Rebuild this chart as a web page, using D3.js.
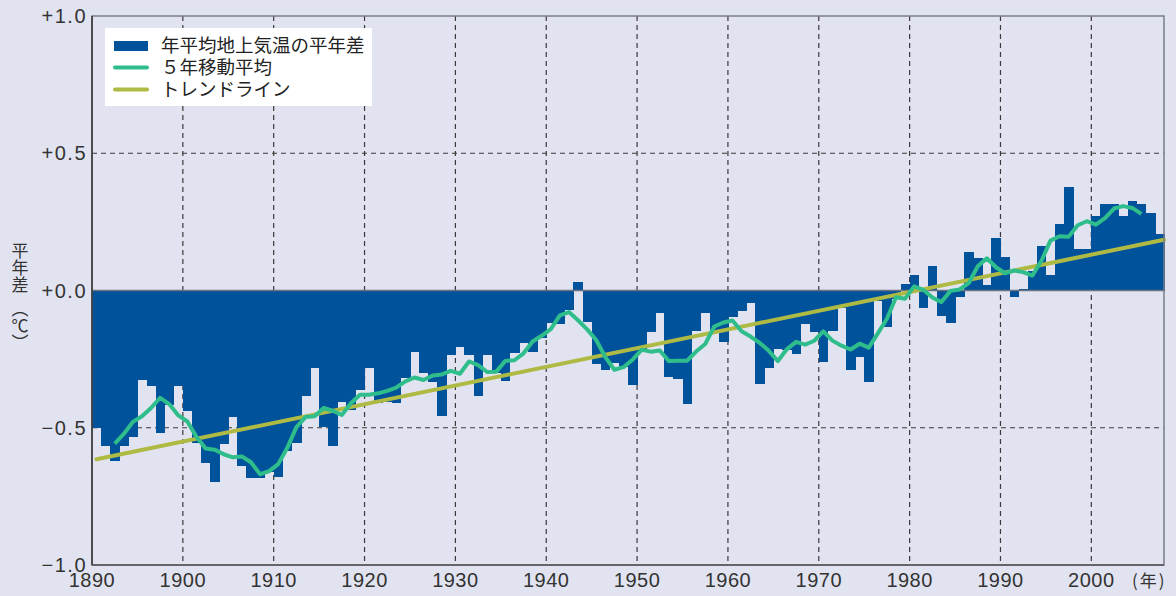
<!DOCTYPE html>
<html>
<head>
<meta charset="utf-8">
<script src="https://cdn.jsdelivr.net/npm/d3@7"></script>
<style>
  html, body { margin: 0; padding: 0; background: #e1e4f0; }
  svg { display: block; }
</style>
</head>
<body>
<svg id="chart"></svg>
<script>
// annual anomaly, first bar = 1891
const firstYear = 1891;
const anomalies = [
  -0.50, -0.567, -0.62, -0.567, -0.534, -0.325, -0.347, -0.518, -0.417, -0.347,
  -0.439, -0.555, -0.628, -0.697, -0.558, -0.461, -0.639, -0.683, -0.683, -0.662,
  -0.68, -0.583, -0.555, -0.386, -0.284, -0.497, -0.567, -0.406, -0.436, -0.362,
  -0.284, -0.411, -0.405, -0.411, -0.317, -0.223, -0.30, -0.333, -0.457, -0.234,
  -0.205, -0.234, -0.386, -0.234, -0.299, -0.331, -0.228, -0.19, -0.223, -0.172,
  -0.117, -0.123, -0.07, 0.03, -0.113, -0.266, -0.289, -0.263, -0.28, -0.345,
  -0.22, -0.152, -0.083, -0.314, -0.323, -0.414, -0.146, -0.083, -0.146, -0.186,
  -0.095, -0.073, -0.046, -0.341, -0.284, -0.212, -0.216, -0.232, -0.123, -0.152,
  -0.262, -0.146, -0.063, -0.29, -0.244, -0.332, -0.04, -0.134, -0.03, 0.022,
  0.058, -0.065, 0.091, -0.094, -0.119, -0.024, 0.139, 0.117, 0.02, 0.19,
  0.121, -0.024, 0.007, 0.07, 0.161, 0.058, 0.241, 0.378, 0.15, 0.15,
  0.27, 0.314, 0.314, 0.27, 0.325, 0.314, 0.281, 0.205
];

const trendYears = [1890.5, 2008];
const trendValues = [-0.615, 0.185];

const xTicks = [1890, 1900, 1910, 1920, 1930, 1940, 1950, 1960, 1970, 1980, 1990, 2000];
const yTicks = [-1.0, -0.5, 0.0, 0.5, 1.0];
const yTickLabels = ["−1.0", "−0.5", "+0.0", "+0.5", "+1.0"];
const legendLabels = ["年平均地上気温の平年差", "５年移動平均", "トレンドライン"];

const width = 1176;
const height = 596;
const margin = {top: 16, right: 12, bottom: 31, left: 92};

const barColor = "#00529b";
const maColor = "#2fbd8b";
const trendColor = "#afba45";
const jpFont = "'Noto Sans CJK JP', sans-serif";
const numFont = "'Liberation Sans', Arial, sans-serif";

const data = anomalies.map((v, i) => ({year: firstYear + i, value: v}));

// 5-year centred running mean of the annual values
const movingAvg = [];
for (let i = 2; i < data.length - 2; i++) {
    movingAvg.push({year: data[i].year, value: d3.mean(data.slice(i - 2, i + 3), d => d.value)});
}

const x = d3.scaleLinear()
    .domain([1890, 2008])
    .range([margin.left, width - margin.right]);

const y = d3.scaleLinear()
    .domain([-1, 1])
    .range([height - margin.bottom, margin.top]);

const svg = d3.select("#chart")
    .attr("width", width)
    .attr("height", height);

// dashed grid
svg.append("g")
    .selectAll("line")
    .data(xTicks.slice(1))
    .join("line")
        .attr("x1", d => x(d))
        .attr("x2", d => x(d))
        .attr("y1", y(1))
        .attr("y2", y(-1))
        .attr("stroke", "#3a3a3a")
        .attr("stroke-width", 1.2)
        .attr("stroke-dasharray", "5,4");

svg.append("g")
    .selectAll("line")
    .data([-0.5, 0.5])
    .join("line")
        .attr("x1", x(1890))
        .attr("x2", x(2008))
        .attr("y1", d => y(d))
        .attr("y2", d => y(d))
        .attr("stroke", "#3a3a3a")
        .attr("stroke-width", 1.2)
        .attr("stroke-dasharray", "5,4");

// bars: year Y spans [Y-1, Y]
svg.append("g")
    .attr("shape-rendering", "crispEdges")
    .selectAll("rect")
    .data(data)
    .join("rect")
        .attr("x", d => x(d.year - 1))
        .attr("width", d => x(d.year) - x(d.year - 1) + 0.6)
        .attr("y", d => y(Math.max(0, d.value)))
        .attr("height", d => Math.abs(y(d.value) - y(0)))
        .attr("fill", barColor);

// zero line
svg.append("line")
    .attr("x1", x(1890))
    .attr("x2", x(2008))
    .attr("y1", y(0))
    .attr("y2", y(0))
    .attr("stroke", "#6d7280")
    .attr("stroke-width", 1.5);

// trend line
svg.append("path")
    .datum(trendYears.map((t, i) => [t, trendValues[i]]))
    .attr("fill", "none")
    .attr("stroke", trendColor)
    .attr("stroke-width", 4)
    .attr("stroke-linecap", "round")
    .attr("d", d3.line().x(d => x(d[0])).y(d => y(d[1])));

// moving average
svg.append("path")
    .datum(movingAvg)
    .attr("fill", "none")
    .attr("stroke", maColor)
    .attr("stroke-width", 4)
    .attr("stroke-linejoin", "round")
    .attr("d", d3.line().x(d => x(d.year - 0.5)).y(d => y(d.value)));

// frame
svg.append("rect")
    .attr("x", x(1890))
    .attr("y", y(1))
    .attr("width", x(2008) - x(1890))
    .attr("height", y(-1) - y(1))
    .attr("fill", "none")
    .attr("stroke", "#7a7d88")
    .attr("stroke-width", 1.5);

svg.append("line")
    .attr("x1", x(1890)).attr("x2", x(1890))
    .attr("y1", y(1)).attr("y2", y(-1))
    .attr("stroke", "#333")
    .attr("stroke-width", 1.5);

svg.append("line")
    .attr("x1", x(1890)).attr("x2", x(2008))
    .attr("y1", y(-1)).attr("y2", y(-1))
    .attr("stroke", "#555")
    .attr("stroke-width", 1.5);

// y tick labels
svg.append("g")
    .selectAll("text")
    .data(yTicks)
    .join("text")
        .attr("x", margin.left - 5)
        .attr("y", d => y(d))
        .attr("dy", "0.36em")
        .attr("text-anchor", "end")
        .attr("font-family", numFont)
        .attr("font-size", 20)
        .attr("letter-spacing", 1.5)
        .attr("fill", "#333")
        .text((d, i) => yTickLabels[i]);

// x tick labels
svg.append("g")
    .selectAll("text")
    .data(xTicks)
    .join("text")
        .attr("x", d => x(d))
        .attr("y", 587)
        .attr("text-anchor", "middle")
        .attr("font-family", numFont)
        .attr("font-size", 20)
        .attr("letter-spacing", 0.5)
        .attr("fill", "#333")
        .text(d => d);

svg.append("text")
    .attr("x", 1132)
    .attr("y", 587)
    .attr("font-family", jpFont)
    .attr("font-size", 17)
    .attr("letter-spacing", 2)
    .attr("fill", "#333")
    .text("(年)");

// y axis title, vertical writing
svg.append("text")
    .attr("x", 20)
    .attr("y", 242)
    .style("writing-mode", "vertical-rl")
    .attr("font-family", jpFont)
    .attr("font-size", 17)
    .attr("fill", "#333")
    .text("平年差");

svg.append("text")
    .attr("x", 20)
    .attr("y", 300)
    .style("writing-mode", "vertical-rl")
    .attr("font-family", jpFont)
    .attr("font-size", 17)
    .attr("fill", "#333")
    .text("（℃）");

// legend
const legend = svg.append("g");

legend.append("rect")
    .attr("x", 105)
    .attr("y", 28)
    .attr("width", 267)
    .attr("height", 78)
    .attr("fill", "#fff");

const legendRows = [45, 67.5, 89.5];

legend.append("rect")
    .attr("x", 114)
    .attr("y", 41)
    .attr("width", 34)
    .attr("height", 10)
    .attr("fill", barColor);

[maColor, trendColor].forEach((c, i) => {
    legend.append("line")
        .attr("x1", 115)
        .attr("x2", 147)
        .attr("y1", legendRows[i + 1])
        .attr("y2", legendRows[i + 1])
        .attr("stroke", c)
        .attr("stroke-width", 4)
        .attr("stroke-linecap", "round");
});

legend.selectAll("text")
    .data(legendLabels)
    .join("text")
        .attr("x", 161)
        .attr("y", (d, i) => legendRows[i])
        .attr("dy", "0.36em")
        .attr("font-family", jpFont)
        .attr("font-size", 18.5)
        .attr("fill", "#222")
        .text(d => d);
</script>
</body>
</html>
